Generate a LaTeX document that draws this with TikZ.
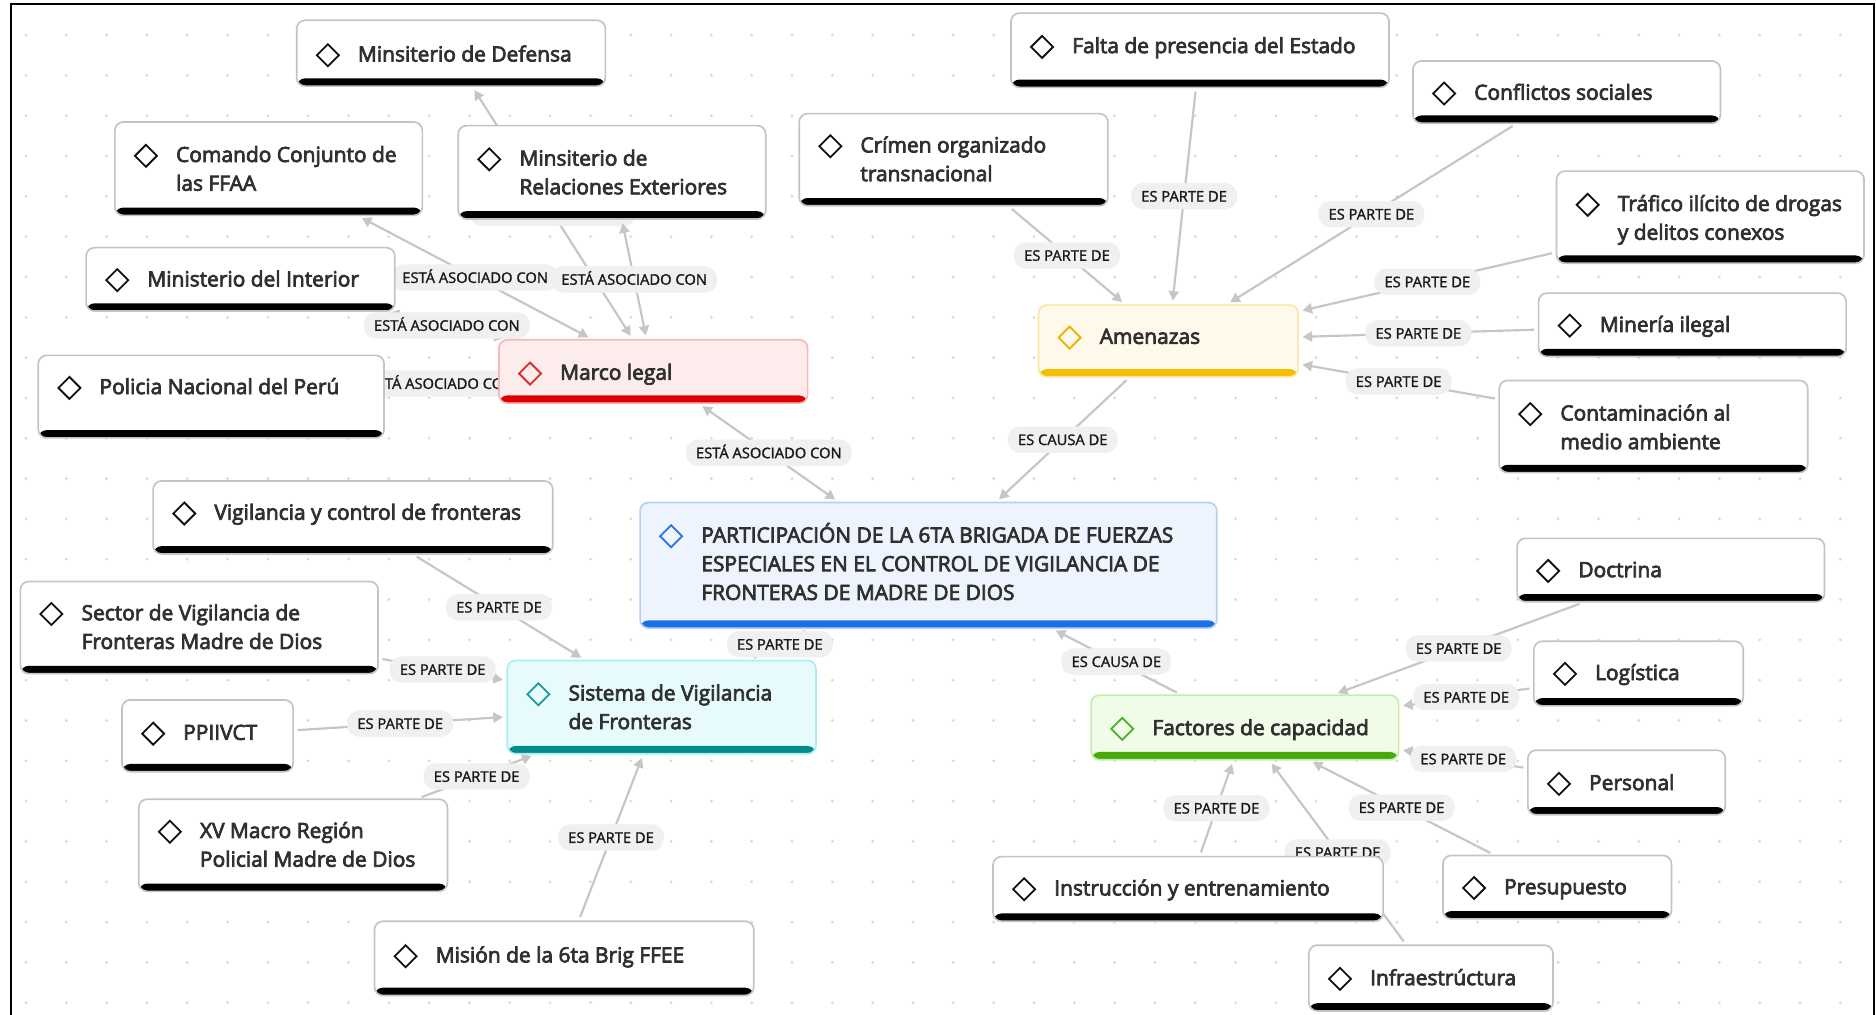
\documentclass[tikz,border=0pt]{standalone}
\usepackage{fontspec}
\setmainfont{Open Sans}
\newfontfamily\nfont{Open Sans}[FakeBold=3.5]
\newfontfamily\lfont{Open Sans}[FakeBold=1.5]
\usetikzlibrary{arrows.meta,shapes.geometric}
\pgfdeclarelayer{bg}
\pgfdeclarelayer{edges}
\pgfsetlayers{bg,edges,main}
\definecolor{plainborder}{HTML}{C4C4C4}
\definecolor{plainfill}{HTML}{FFFFFF}
\definecolor{plainbar}{HTML}{000000}
\definecolor{plaindia}{HTML}{111111}
\definecolor{redborder}{HTML}{F6B8B8}
\definecolor{redfill}{HTML}{FDECEC}
\definecolor{redbar}{HTML}{DD0000}
\definecolor{reddia}{HTML}{D32F2F}
\definecolor{yelborder}{HTML}{FCE7A6}
\definecolor{yelfill}{HTML}{FFF9EC}
\definecolor{yelbar}{HTML}{F6BE00}
\definecolor{yeldia}{HTML}{F0B400}
\definecolor{bluborder}{HTML}{B5D0F5}
\definecolor{blufill}{HTML}{EEF4FD}
\definecolor{blubar}{HTML}{1A6EE8}
\definecolor{bludia}{HTML}{2A73D9}
\definecolor{cyaborder}{HTML}{A8EEF5}
\definecolor{cyafill}{HTML}{E8FBFC}
\definecolor{cyabar}{HTML}{008B8B}
\definecolor{cyadia}{HTML}{1C9B9B}
\definecolor{greborder}{HTML}{C2F0A8}
\definecolor{grefill}{HTML}{F0FBE8}
\definecolor{grebar}{HTML}{4AA80E}
\definecolor{gredia}{HTML}{4CAF22}
\definecolor{edgecol}{HTML}{C6C6C6}
\definecolor{pillfill}{HTML}{F0F0F0}
\definecolor{txt}{HTML}{303030}
\definecolor{dotcol}{HTML}{D9D9D9}
\newcommand\nl{\\\strut}
\tikzset{
  mmbox/.style={rectangle, rounded corners=7pt, draw=#1border, fill=#1fill, line width=1.4pt, inner sep=0pt,
    path picture={\fill[#1bar] ([yshift=6.5pt]path picture bounding box.south west) rectangle (path picture bounding box.south east);}},
  mmdia/.style={diamond, draw=#1dia, line width=1.5pt, inner sep=0pt, minimum width=19pt, minimum height=19pt},
  mmtxt/.style={font=\nfont\fontsize{17.5}{24}\selectfont, text=txt, align=left, inner sep=0pt, anchor=west},
  lbl/.style={fill=pillfill, rounded corners=10pt, font=\lfont\fontsize{12.3}{14}\selectfont, text=black!90,
    inner xsep=8.5pt, inner ysep=0pt, minimum height=22pt, text height=9pt, text depth=0pt},
  rel/.style={draw=edgecol, line width=1.8pt, shorten >=3pt, shorten <=3pt},
  toarrow/.style={rel, -{Triangle[length=8pt,width=8.5pt]}},
  bothway/.style={rel, {Triangle[length=8pt,width=8.5pt]}-{Triangle[length=8pt,width=8.5pt]}}
}
\newcommand\mm[9]{%
  \node[mmbox=#2, minimum width={(#5)-(#3)}, minimum height={(#6)-(#4)}] (#1) at ({((#3)+(#5))/2},{((#4)+(#6))/2}) {};
  \node[mmdia=#2] (#1d) at ({(#3)+26},{(#7)+1.2}) {};
  \node[mmtxt] (#1t) at ({(#3)+51},{(#8)+1.6}) {\strut #9};
}
\begin{document}
\begin{tikzpicture}[x=1pt,y=-1pt]
\useasboundingbox (0,0) rectangle (1568,848);
\begin{pgfonlayer}{bg}
  \fill[white] (0,0) rectangle (1568,848);
  \foreach \i in {0,...,46} \foreach \j in {0,...,24} {\fill[dotcol] ({21.7+33.7*\i},{29.3+33.7*\j}) circle (1.3pt);}
  \draw[line width=1.7pt, black] (9.2,850) -- (9.2,3.3) -- (1566.3,3.3) -- (1566.3,850);
\end{pgfonlayer}

\mm{def}{plain}{248}{17}{506}{72}{45}{45}{Minsiterio de Defensa}
\mm{cmd}{plain}{96}{102}{353}{180}{129}{141}{Comando Conjunto de\nl las FFAA}
\mm{rel}{plain}{383}{105}{640}{183}{132}{144}{Minsiterio de\nl Relaciones Exteriores}
\mm{int}{plain}{72}{207}{330}{260}{233}{233}{Ministerio del Interior}
\mm{pol}{plain}{32}{297}{321}{366}{323}{323}{Policia Nacional del Perú}
\mm{ml}{red}{417}{284}{675}{337}{311}{311}{Marco legal}
\mm{fal}{plain}{845}{11}{1161}{73}{38}{38}{Falta de presencia del Estado}
\mm{con}{plain}{1181}{51}{1438}{103}{77}{77}{Conflictos sociales}
\mm{cri}{plain}{668}{95}{926}{172}{121}{133}{Crímen organizado\nl transnacional}
\mm{tra}{plain}{1301}{143}{1558}{220}{170}{182}{Tráfico ilícito de drogas\nl y delitos conexos}
\mm{ame}{yel}{868}{255}{1085}{315}{281}{281}{Amenazas}
\mm{mnr}{plain}{1286}{245}{1543}{298}{271}{271}{Minería ilegal}
\mm{cnt}{plain}{1253}{318}{1511}{395}{345}{357}{Contaminación al\nl medio ambiente}
\mm{cen}{blu}{535}{420}{1017}{525}{447}{471}{PARTICIPACIÓN DE LA 6TA BRIGADA DE FUERZAS\nl ESPECIALES EN EL CONTROL DE VIGILANCIA DE\nl FRONTERAS DE MADRE DE DIOS}
\mm{vig}{plain}{128}{402}{462}{463}{428}{428}{Vigilancia y control de fronteras}
\mm{sec}{plain}{17}{486}{316}{563}{512}{524}{Sector de Vigilancia de\nl Fronteras Madre de Dios}
\mm{sis}{cya}{424}{552}{682}{630}{579}{591}{Sistema de Vigilancia\nl de Fronteras}
\mm{ppi}{plain}{102}{585}{245}{645}{612}{612}{PPIIVCT}
\mm{xvm}{plain}{116}{668}{374}{745}{694}{706}{XV Macro Región\nl Policial Madre de Dios}
\mm{mis}{plain}{313}{770}{630}{832}{798}{798}{Misión de la 6ta Brig FFEE}
\mm{doc}{plain}{1268}{450}{1525}{503}{476}{476}{Doctrina}
\mm{lgs}{plain}{1282}{536}{1457}{590}{562}{562}{Logística}
\mm{fac}{gre}{912}{581}{1169}{635}{608}{608}{Factores de capacidad}
\mm{per}{plain}{1277}{627}{1442}{681}{654}{654}{Personal}
\mm{ins}{plain}{830}{716}{1156}{770}{742}{742}{Instrucción y entrenamiento}
\mm{pre}{plain}{1206}{715}{1397}{768}{741}{741}{Presupuesto}
\mm{inf}{plain}{1094}{790}{1298}{845}{817}{817}{Infraestrúctura}

\begin{pgfonlayer}{edges}
  % Marco legal
  \draw[bothway] (def) -- node[lbl] (l2) {\phantom{ESTÁ ASOCIADO CON}} (ml);
  \draw[bothway] (cmd) -- node[lbl] (l1) {ESTÁ ASOCIADO CON} (ml);
  \draw[bothway] (rel) -- node[lbl] (l3) {ESTÁ ASOCIADO CON} (ml);
  \draw[bothway] (int) -- node[lbl] (l4) {ESTÁ ASOCIADO CON} (ml);
  \draw[bothway] (pol) -- node[lbl] (l5) {ESTÁ ASOCIADO CON} (ml);
  \draw[bothway] (ml) -- node[lbl] (l6) {ESTÁ ASOCIADO CON} (cen);
  % Amenazas
  \draw[toarrow] (cri) -- node[lbl] (a1) {ES PARTE DE} (ame);
  \draw[toarrow] (fal) -- node[lbl] (a2) {ES PARTE DE} (ame);
  \draw[toarrow] (con) -- node[lbl] (a3) {ES PARTE DE} (ame);
  \draw[toarrow] (tra) -- node[lbl] (a4) {ES PARTE DE} (ame);
  \draw[toarrow] (mnr) -- node[lbl] (a5) {ES PARTE DE} (ame);
  \draw[toarrow] (cnt) -- node[lbl] (a6) {ES PARTE DE} (ame);
  \draw[toarrow] (ame) -- node[lbl] (a7) {ES CAUSA DE} (cen);
  % Sistema
  \draw[toarrow] (vig) -- node[lbl] (s1) {ES PARTE DE} (sis);
  \draw[toarrow] (sec) -- node[lbl] (s2) {ES PARTE DE} (sis);
  \draw[toarrow] (ppi) -- node[lbl] (s3) {ES PARTE DE} (sis);
  \draw[toarrow] (xvm) -- node[lbl] (s4) {ES PARTE DE} (sis);
  \draw[toarrow] (mis) -- node[lbl] (s5) {ES PARTE DE} (sis);
  \draw[rel] (sis) -- node[lbl] (s6) {ES PARTE DE} (cen);
  % Factores
  \draw[toarrow] (doc) -- node[lbl] (f1) {ES PARTE DE} (fac);
  \draw[toarrow] (lgs) -- node[lbl] (f2) {ES PARTE DE} (fac);
  \draw[toarrow] (per) -- node[lbl] (f3) {ES PARTE DE} (fac);
  \draw[toarrow] (pre) -- node[lbl] (f4) {ES PARTE DE} (fac);
  \draw[toarrow] (inf) -- node[lbl] (f5) {ES PARTE DE} (fac);
  \draw[toarrow] (ins) -- node[lbl] (f6) {ES PARTE DE} (fac);
  \draw[toarrow] (fac) -- node[lbl] (f7) {ES CAUSA DE} (cen);
\end{pgfonlayer}
\end{tikzpicture}
\end{document}
